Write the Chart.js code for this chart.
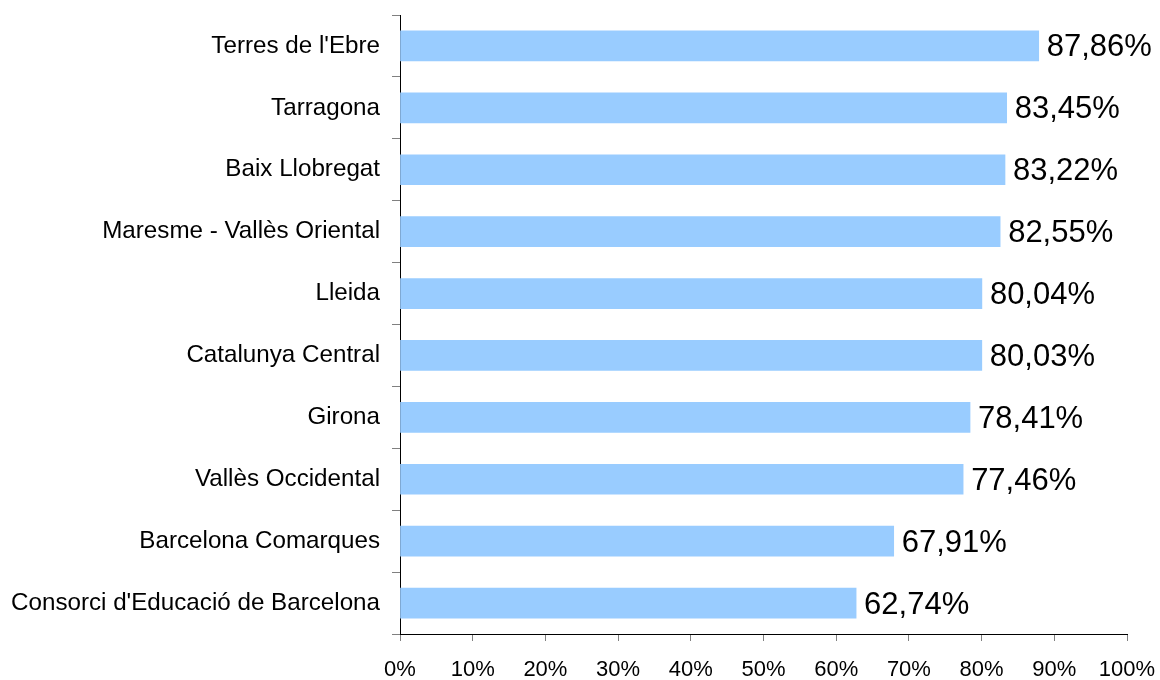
<!DOCTYPE html>
<html>
<head>
<meta charset="utf-8">
<script src="https://cdn.jsdelivr.net/npm/chart.js@4/dist/chart.umd.min.js"></script>
<style>
  html, body { margin: 0; padding: 0; background: #fff; }
  #wrap { width: 1160px; height: 680px; position: relative; }
</style>
</head>
<body>
<div id="wrap"><canvas id="c"></canvas></div>
<script>
// Territorial services, top to bottom
const categories = [
  "Terres de l'Ebre",
  "Tarragona",
  "Baix Llobregat",
  "Maresme - Vallès Oriental",
  "Lleida",
  "Catalunya Central",
  "Girona",
  "Vallès Occidental",
  "Barcelona Comarques",
  "Consorci d'Educació de Barcelona"
];
// Percentage per territory
const values = [87.86, 83.45, 83.22, 82.55, 80.04, 80.03, 78.41, 77.46, 67.91, 62.74];
// Horizontal axis range and step (percent)
const xMin = 0;
const xMax = 100;
const xStep = 10;

const FONT = "'Liberation Sans', Arial, sans-serif";

const fmt = v => v.toFixed(2).replace('.', ',') + '%';

// Writes each bar's value just past its end
const valueLabels = {
  id: 'valueLabels',
  afterDatasetsDraw(chart) {
    const ctx = chart.ctx;
    const meta = chart.getDatasetMeta(0);
    ctx.save();
    ctx.font = '31px ' + FONT;
    ctx.fillStyle = '#000';
    ctx.textAlign = 'left';
    ctx.textBaseline = 'middle';
    meta.data.forEach((bar, i) => {
      ctx.fillText(fmt(values[i]), bar.x + 8, bar.y + 2);
    });
    ctx.restore();
  }
};

new Chart(document.getElementById('c'), {
  type: 'bar',
  data: {
    labels: categories,
    datasets: [{
      data: values,
      backgroundColor: '#99CCFF',
      borderWidth: 0,
      barThickness: 30
    }]
  },
  options: {
    indexAxis: 'y',
    responsive: true,
    maintainAspectRatio: false,
    animation: false,
    layout: { padding: { top: 15, right: 33, bottom: 0, left: 0 } },
    plugins: {
      legend: { display: false },
      tooltip: { enabled: false }
    },
    scales: {
      x: {
        min: xMin,
        max: xMax,
        afterFit(scale) {
          scale.height = 46;
          scale.paddingLeft = 0;
          scale.paddingRight = 0;
        },
        ticks: {
          stepSize: xStep,
          callback: v => v + '%',
          color: '#000',
          font: { family: FONT, size: 22 },
          padding: 16,
          maxRotation: 0
        },
        grid: {
          drawOnChartArea: false,
          drawTicks: true,
          tickLength: 7,
          color: '#808080'
        },
        border: { display: true, color: '#000', width: 1 }
      },
      y: {
        afterFit(scale) {
          scale.width = 400;
          scale.paddingTop = 0;
          scale.paddingBottom = 0;
        },
        ticks: {
          color: '#000',
          font: { family: FONT, size: 24.2 },
          padding: 12,
          autoSkip: false
        },
        grid: {
          drawOnChartArea: false,
          drawTicks: true,
          tickLength: 8,
          offset: true,
          color: '#808080'
        },
        border: { display: true, color: '#000', width: 1 }
      }
    }
  },
  plugins: [valueLabels]
});
</script>
</body>
</html>
